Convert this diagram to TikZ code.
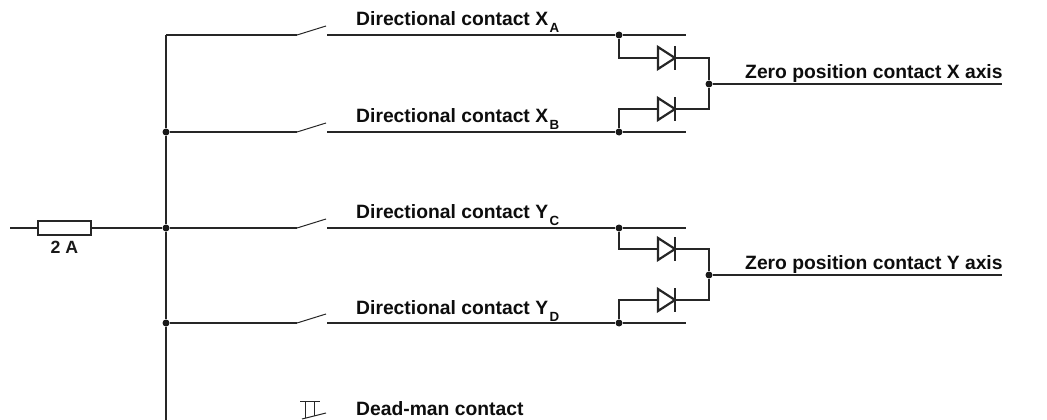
\documentclass[tikz,border=0pt]{standalone}
\usepackage{fontspec}
\setmainfont{Liberation Sans}
\usepackage{tikz}
\usetikzlibrary{calc,positioning}
\newcommand{\subidx}[1]{\kern1.5pt\raisebox{-7pt}{\fontsize{13.3}{13.3}\selectfont #1}}
\tikzset{
  wire/.style={line width=1.3pt, color=black!85},
  blade/.style={line width=1pt, color=black!85},
  heavy/.style={line width=2.2pt, color=black!85},
  jct/.style={circle, fill=black!90, inner sep=0pt, minimum size=7pt},
  label/.style={font=\fontsize{19.3}{21}\selectfont\bfseries, text=black!95, anchor=base west, inner sep=0pt},
  fuse/.style={draw=black!85, line width=2.2pt, fill=white, minimum width=53pt, minimum height=14pt, inner sep=0pt},
  diode/.pic={
    \coordinate (-in) at (-9,0);
    \coordinate (-out) at (8,0);
    \draw[heavy, line join=miter] (-9,-11) -- (-9,11) -- (8,0) -- cycle;
    \draw[heavy] (8,-12) -- (8,12);
  },
}
\begin{document}
\begin{tikzpicture}[x=1pt,y=-1pt]
\useasboundingbox (0,0) rectangle (1047,420);

% --- supply and fuse ---
\coordinate (supply) at (10,228);
\node[fuse] (fuse) at (64.5,228) {};
\node[jct] (railC) at (166,228) {};
\node[font=\fontsize{17.7}{20}\selectfont\bfseries, text=black!90, anchor=base, inner sep=0pt] (fuselabel) at (64.5,253) {2 A};
\draw[wire] (supply) -- (fuse.west);
\draw[wire] (fuse.east) -- (railC);

% --- rail ---
\coordinate (railA) at (166,35);
\node[jct] (railB) at (166,132) {};
\node[jct] (railD) at (166,323) {};
\coordinate (railEnd) at (166,420);
\draw[wire] (railA) -- (railB) -- (railC) -- (railD) -- (railEnd);

% --- directional contacts X ---
\coordinate (pivA) at (297,35);
\coordinate (tipA) at (326,26);
\coordinate (conA) at (327,35);
\coordinate (endA) at (686,35);
\node[jct] (tapA) at (619,35) {};
\draw[wire] (railA) -- (pivA);
\draw[blade] (pivA) -- (tipA);
\draw[wire] (conA) -- (tapA) -- (endA);

\coordinate (pivB) at (297,132);
\coordinate (tipB) at (326,123);
\coordinate (conB) at (327,132);
\coordinate (endB) at (686,132);
\node[jct] (tapB) at (619,132) {};
\draw[wire] (railB) -- (pivB);
\draw[blade] (pivB) -- (tipB);
\draw[wire] (conB) -- (tapB) -- (endB);

\pic (dA) at (667,58) {diode};
\pic (dB) at (667,109) {diode};
\node[jct] (zeroX) at (709,84) {};
\coordinate (outX) at (1002,84);
\draw[wire] (tapA) |- (dA-in);
\draw[wire] (tapB) |- (dB-in);
\draw[wire] (dA-out) -| (zeroX);
\draw[wire] (dB-out) -| (zeroX);
\draw[wire] (zeroX) -- (outX);

% --- directional contacts Y ---
\coordinate (pivC) at (297,228);
\coordinate (tipC) at (326,219);
\coordinate (conC) at (327,228);
\coordinate (endC) at (686,228);
\node[jct] (tapC) at (619,228) {};
\draw[wire] (railC) -- (pivC);
\draw[blade] (pivC) -- (tipC);
\draw[wire] (conC) -- (tapC) -- (endC);

\coordinate (pivD) at (297,323);
\coordinate (tipD) at (326,314);
\coordinate (conD) at (327,323);
\coordinate (endD) at (686,323);
\node[jct] (tapD) at (619,323) {};
\draw[wire] (railD) -- (pivD);
\draw[blade] (pivD) -- (tipD);
\draw[wire] (conD) -- (tapD) -- (endD);

\pic (dC) at (667,249) {diode};
\pic (dD) at (667,300) {diode};
\node[jct] (zeroY) at (709,275) {};
\coordinate (outY) at (1002,275);
\draw[wire] (tapC) |- (dC-in);
\draw[wire] (tapD) |- (dD-in);
\draw[wire] (dC-out) -| (zeroY);
\draw[wire] (dD-out) -| (zeroY);
\draw[wire] (zeroY) -- (outY);

% --- dead-man symbol ---
\draw[blade] (300,401) -- (320,401);
\draw[blade] (305,401) -- (305,418);
\draw[blade] (314,401) -- (314,416);
\draw[blade] (302,419) -- (326,413);

% --- labels ---
\node[label] (labA) at (356,25.5) {Directional contact X\subidx{A}};
\node[label] (labB) at (356,122.5) {Directional contact X\subidx{B}};
\node[label] (labC) at (356,218) {Directional contact Y\subidx{C}};
\node[label] (labD) at (356,314) {Directional contact Y\subidx{D}};
\node[label] (labX) at (745,78) {Zero position contact X axis};
\node[label] (labY) at (745,269.5) {Zero position contact Y axis};
\node[label] (labDead) at (356,415) {Dead-man contact};
\end{tikzpicture}
\end{document}
